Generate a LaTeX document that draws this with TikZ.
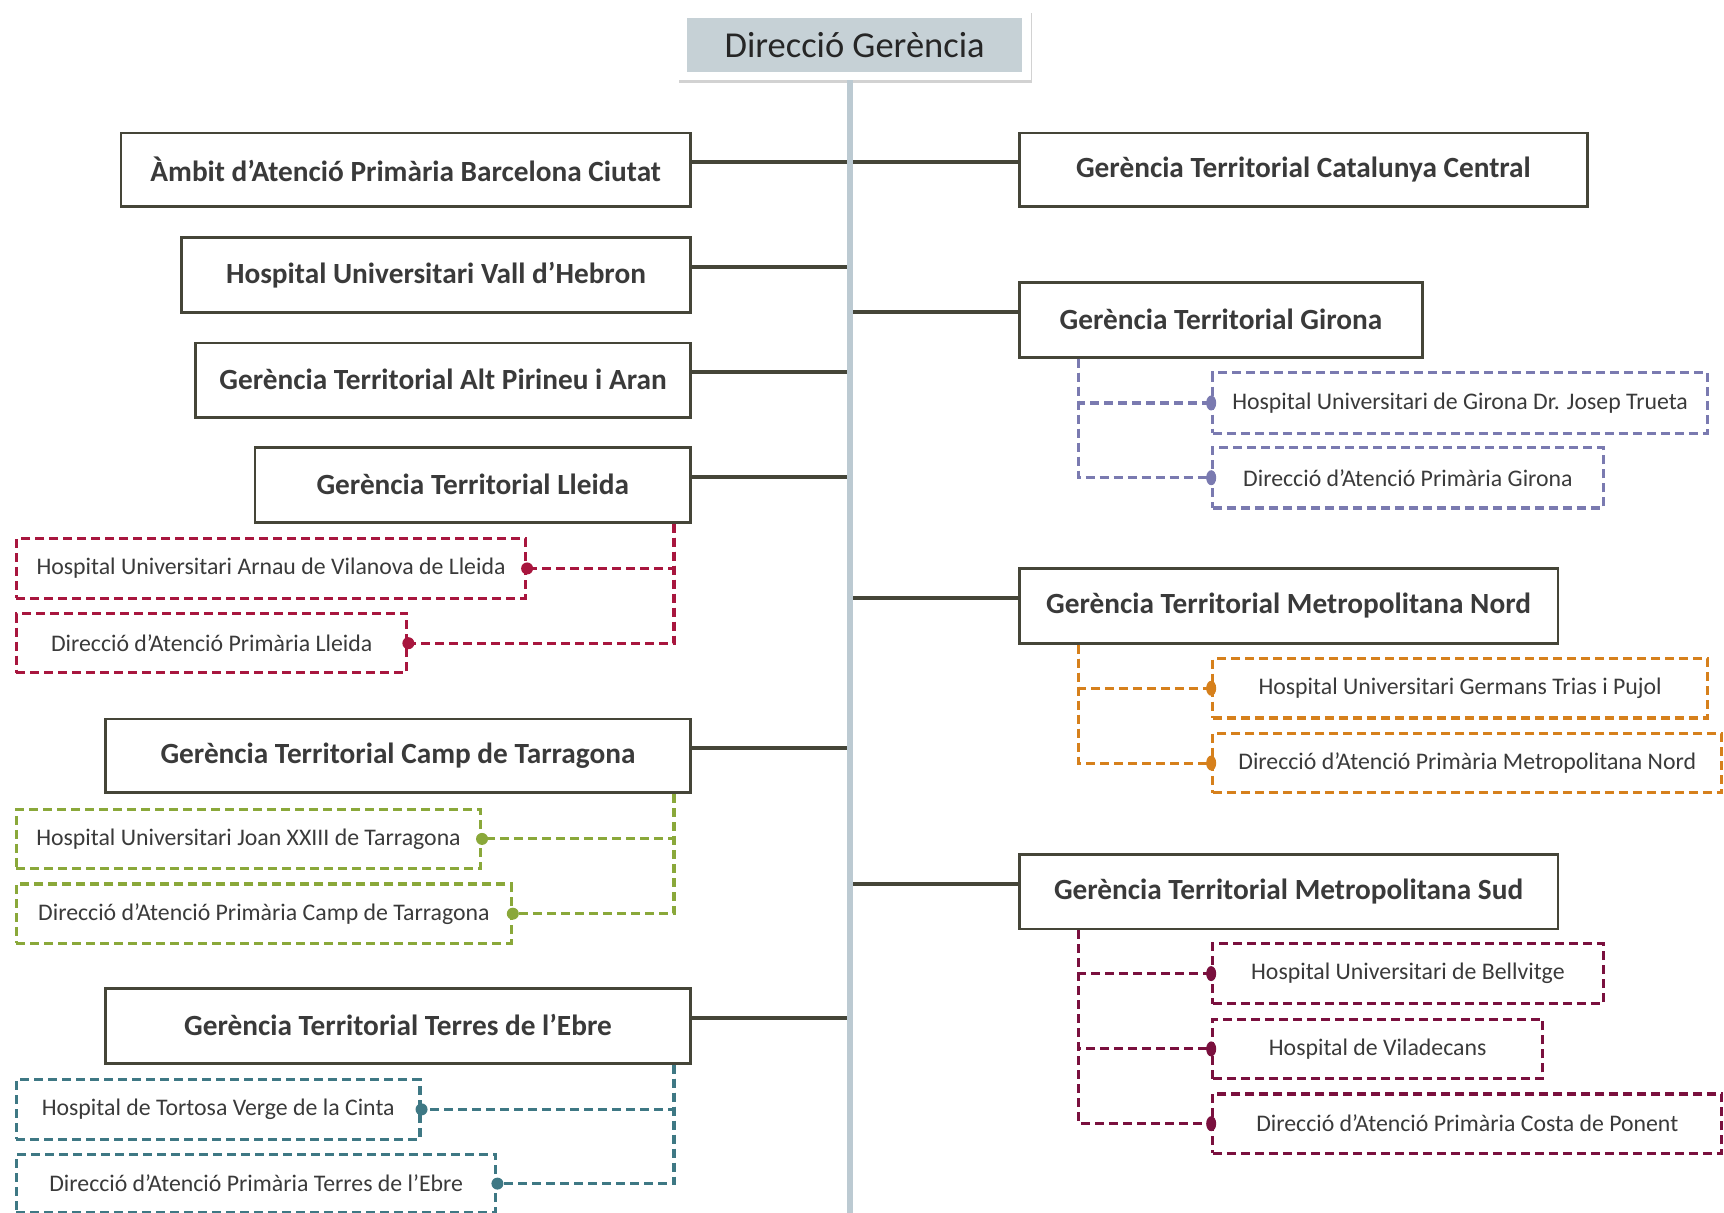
\documentclass[tikz,border=0pt]{standalone}
\usepackage{fontspec}
\setmainfont{Carlito}
\usetikzlibrary{shadows}
\definecolor{boxc}{RGB}{69,69,56}
\definecolor{spinec}{RGB}{188,202,210}
\definecolor{titlec}{RGB}{198,209,214}
\definecolor{txt}{RGB}{58,58,58}
\definecolor{lle}{RGB}{168,22,62}
\definecolor{tar}{RGB}{138,168,58}
\definecolor{ebr}{RGB}{62,120,132}
\definecolor{gir}{RGB}{122,122,176}
\definecolor{nor}{RGB}{214,128,28}
\definecolor{sud}{RGB}{122,16,62}
% #1 style, #2 x1, #3 y1, #4 x2, #5 y2, #6 name
\newcommand\boxat[6]{\node[#1, minimum width={(#4-#2)*1.0995pt}, minimum height={(#5-#3)*1.0995pt}] (#6) at ({(#2+#4)/2},{(#3+#5)/2})}
\begin{document}
\begin{tikzpicture}[x=1.0995pt,y=-1.0995pt,
  mainbox/.style={draw=boxc, line width=2.8pt, fill=white, inner sep=0pt,
    font=\fontsize{29.3}{33}\selectfont\bfseries, text=txt},
  subbox/.style={draw=#1, line width=3.1pt, dash pattern=on 9pt off 5pt, fill=white, inner sep=0pt,
    font=\fontsize{23.8}{27}\selectfont, text=txt},
  conn/.style={draw=boxc, line width=4pt},
  dconn/.style={draw=#1, line width=3.1pt, dash pattern=on 9pt off 5pt},
  spine/.style={draw=spinec, line width=6pt}]
\useasboundingbox[fill=white] (0,0) rectangle (1568,1103);

% title
\boxat{fill=white, inner sep=0pt, drop shadow={opacity=0.35, shadow xshift=1pt, shadow yshift=-3pt}}{617}{9}{938}{73}{Tc} {};
\boxat{fill=titlec, inner sep=0pt, font=\fontsize{36.5}{40}\selectfont, text=black!85}{625}{16.5}{929.5}{65.5}{T} {\raisebox{1pt}{Direcció Gerència}};
\coordinate (sp) at (773,0);
\coordinate (spb) at (773,1103);

% left main boxes
\boxat{mainbox}{110}{121}{628}{188}{A1} {\raisebox{2pt}{Àmbit d’Atenció Primària Barcelona Ciutat}};
\boxat{mainbox}{165}{216}{628}{284}{A2} {\raisebox{2pt}{Hospital Universitari Vall d’Hebron}};
\boxat{mainbox}{178}{312}{628}{380}{A3} {\raisebox{2pt}{Gerència Territorial Alt Pirineu i Aran}};
\boxat{mainbox}{232}{407}{628}{475}{A4} {\raisebox{2pt}{Gerència Territorial Lleida}};
\boxat{mainbox}{96}{654}{628}{721}{A5} {\raisebox{2pt}{Gerència Territorial Camp de Tarragona}};
\boxat{mainbox}{96}{899}{628}{967}{A6} {\raisebox{2pt}{Gerència Territorial Terres de l’Ebre}};

% right main boxes
\boxat{mainbox}{927}{121}{1444}{188}{B1} {\raisebox{2pt}{Gerència Territorial Catalunya Central}};
\boxat{mainbox}{927}{257}{1294}{325}{B2} {\raisebox{2pt}{Gerència Territorial Girona}};
\boxat{mainbox}{927}{517}{1417}{585}{B3} {\raisebox{2pt}{Gerència Territorial Metropolitana Nord}};
\boxat{mainbox}{927}{777}{1417}{845}{B4} {\raisebox{2pt}{Gerència Territorial Metropolitana Sud}};

% sub boxes left
\boxat{subbox=lle}{15}{490}{478}{544}{L1} {Hospital Universitari Arnau de Vilanova de Lleida};
\boxat{subbox=lle}{15}{558}{370}{612}{L2} {Direcció d’Atenció Primària Lleida};
\boxat{subbox=tar}{15}{736}{437}{790}{C1} {Hospital Universitari Joan XXIII de Tarragona};
\boxat{subbox=tar}{15}{804}{465}{858}{C2} {Direcció d’Atenció Primària Camp de Tarragona};
\boxat{subbox=ebr}{15}{982}{382}{1036}{E1} {Hospital de Tortosa Verge de la Cinta};
\boxat{subbox=ebr}{15}{1050}{451}{1103}{E2} {Direcció d’Atenció Primària Terres de l’Ebre};

% sub boxes right
\boxat{subbox=gir}{1103}{339}{1553}{394}{G1} {Hospital Universitari de Girona Dr. Josep Trueta};
\boxat{subbox=gir}{1103}{407}{1458}{462}{G2} {Direcció d’Atenció Primària Girona};
\boxat{subbox=nor}{1103}{599}{1553}{653}{N1} {Hospital Universitari Germans Trias i Pujol};
\boxat{subbox=nor}{1103}{667}{1566}{721}{N2} {Direcció d’Atenció Primària Metropolitana Nord};
\boxat{subbox=sud}{1103}{858}{1458}{913}{S1} {Hospital Universitari de Bellvitge};
\boxat{subbox=sud}{1103}{927}{1403}{981}{S2} {Hospital de Viladecans};
\boxat{subbox=sud}{1103}{995}{1566}{1049}{S3} {Direcció d’Atenció Primària Costa de Ponent};

% main connectors
\foreach \n in {A1,A2,A3,A4,A5,A6}
  \draw[conn] ([yshift=8pt]\n.east) -- ([yshift=8pt]\n.east -| sp);
\foreach \n in {B1,B2,B3,B4}
  \draw[conn] ([yshift=8pt]\n.west) -- ([yshift=8pt]\n.west -| sp);

% spine
\draw[spine] (Tc.south -| sp) -- (spb);

% dashed connectors
\coordinate (lx) at (613,0);
\coordinate (rx) at (981,0);
\draw[dconn=lle] (A4.south -| lx) |- (L1.east);
\draw[dconn=lle] (A4.south -| lx) |- (L2.east);
\draw[dconn=tar] (A5.south -| lx) |- (C1.east);
\draw[dconn=tar] (A5.south -| lx) |- (C2.east);
\draw[dconn=ebr] (A6.south -| lx) |- (E1.east);
\draw[dconn=ebr] (A6.south -| lx) |- (E2.east);
\draw[dconn=gir] (B2.south -| rx) |- (G1.west);
\draw[dconn=gir] (B2.south -| rx) |- (G2.west);
\draw[dconn=nor] (B3.south -| rx) |- (N1.west);
\draw[dconn=nor] (B3.south -| rx) |- (N2.west);
\draw[dconn=sud] (B4.south -| rx) |- (S1.west);
\draw[dconn=sud] (B4.south -| rx) |- (S2.west);
\draw[dconn=sud] (B4.south -| rx) |- (S3.west);

% markers
\foreach \n in {L1,L2} \fill[lle] (\n.east) circle (6pt);
\foreach \n in {C1,C2} \fill[tar] (\n.east) circle (6pt);
\foreach \n in {E1,E2} \fill[ebr] (\n.east) circle (6pt);
\foreach \n in {G1,G2} \fill[gir] (\n.west) circle[x radius=5pt, y radius=7.5pt];
\foreach \n in {N1,N2} \fill[nor] (\n.west) circle[x radius=5pt, y radius=7.5pt];
\foreach \n in {S1,S2,S3} \fill[sud] (\n.west) circle[x radius=5pt, y radius=7.5pt];
\end{tikzpicture}
\end{document}
